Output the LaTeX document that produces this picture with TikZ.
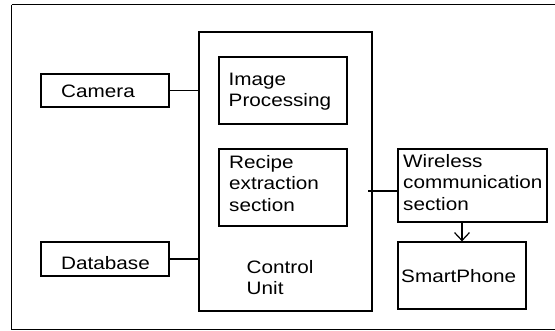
\documentclass[tikz,border=0pt]{standalone}
\usepackage{fontspec}
\setmainfont{Liberation Sans}[FakeStretch=1.15]
\usetikzlibrary{arrows.meta}
\begin{document}
\begin{tikzpicture}[x=1pt,y=-1pt,
  boxst/.style={draw,line width=1.2pt,rectangle,inner sep=0pt},
  txt/.style={anchor=base west,inner sep=0pt,align=left,font=\fontsize{18}{21.7}\selectfont},
  conn/.style={line width=1.2pt}]
\useasboundingbox (0,0) rectangle (555,331);
\fill[white] (0,0) rectangle (555,331);
% outer frame (right edge outside the picture)
\draw[line width=1pt] (11.5,5) -- (560,5);
\draw[line width=1pt] (11.5,5) -- (11.5,329.5) -- (560,329.5);
% boxes
\node[boxst,minimum width=128pt,minimum height=33pt] (camera) at (105,90.5) {};
\node[boxst,minimum width=128pt,minimum height=34pt] (database) at (105,259) {};
\node[boxst,minimum width=173pt,minimum height=279pt] (cu) at (285.5,171.5) {};
\node[boxst,minimum width=128pt,minimum height=67pt] (imgproc) at (283,90.5) {};
\node[boxst,minimum width=128pt,minimum height=77pt] (recipe) at (283,187.5) {};
\node[boxst,minimum width=149pt,minimum height=73pt] (wireless) at (472.5,185.5) {};
\node[boxst,minimum width=128pt,minimum height=67pt] (smart) at (462,275.5) {};
% texts (base anchor = baseline of the last line)
\node[txt] (tcam) at (61,97.3) {Camera};
\node[txt] (tdb) at (61,269.3) {Database};
\node[txt] (timg) at (228.5,107) {Image\\Processing};
\node[txt] (trec) at (229,211.5) {Recipe\\extraction\\section};
\node[txt] (twl) at (403,210.7) {Wireless\\communication\\section};
\node[txt] (tsp) at (401,282.7) {SmartPhone};
\node[txt] (tcu) at (246.5,295) {Control\\Unit};
% redraw wireless border over overflowing text
\draw[line width=1.2pt] (wireless.north west) rectangle (wireless.south east);
% connectors
\draw[conn] (camera.east) -- (camera.east -| cu.west);
\draw[conn] (database.east) -- (database.east -| cu.west);
\coordinate (wl) at (368,191);
\draw[conn] (wl) -- (wl -| wireless.west);
\draw[conn,-{Straight Barb[length=8pt,width=15pt]}] (smart.north |- wireless.south) -- (smart.north);
\end{tikzpicture}
\end{document}
